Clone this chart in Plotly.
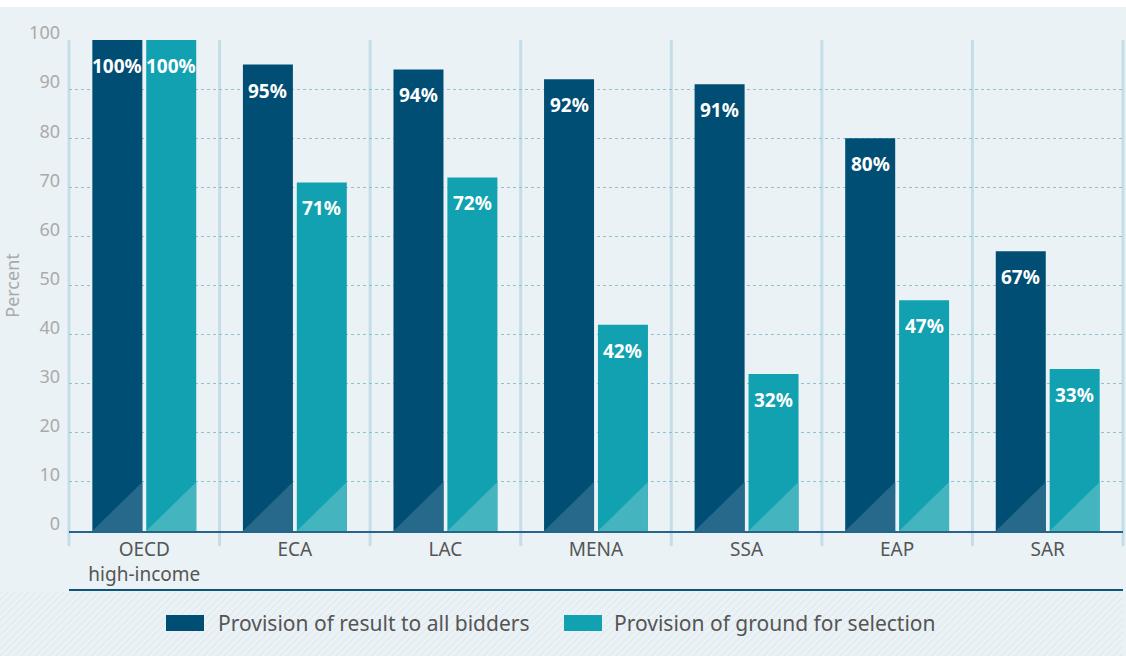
import plotly.graph_objects as go

regions = ["OECD<br>high-income", "ECA", "LAC", "MENA", "SSA", "EAP", "SAR"]
result_all_bidders = [100, 95, 94, 92, 91, 80, 57]
ground_for_selection = [100, 71, 72, 42, 32, 47, 33]
result_labels = ["100%", "95%", "94%", "92%", "91%", "80%", "67%"]
ground_labels = ["100%", "71%", "72%", "42%", "32%", "47%", "33%"]
series_names = ["Provision of result to all bidders", "Provision of ground for selection"]

DARK = "#004e74"
TEAL = "#12a1b1"
DARK_TRI = "#26698a"
TEAL_TRI = "#44b4bf"
BG = "#eaf2f6"
FONT = "Noto Sans"

W, H = 1126, 656
L, R, T, B = 69, 3, 40, 125
pw, ph = W - L - R, H - T - B

BAR_W = 0.332
OFFSETS = [-0.345, 0.013]


def px(x):
    return (x - L) / pw


def py(y):
    return (H - B - y) / ph


xs = list(range(len(regions)))
fig = go.Figure()
for vals, off, color, name in [(result_all_bidders, OFFSETS[0], DARK, series_names[0]),
                               (ground_for_selection, OFFSETS[1], TEAL, series_names[1])]:
    fig.add_trace(go.Bar(x=xs, y=vals, width=BAR_W, offset=off, marker=dict(color=color, line=dict(width=0)),
                         name=name, showlegend=False, hoverinfo="y"))

shapes = []
# background panel below the white strip
shapes.append(dict(type="rect", xref="paper", yref="paper", x0=px(0), x1=px(W), y0=py(H), y1=py(7),
                   fillcolor=BG, line=dict(width=0), layer="below"))
# hatched footer
for x in range(-70, W + 10, 7):
    shapes.append(dict(type="line", xref="paper", yref="paper", x0=px(x), y0=py(H), x1=px(x + 64), y1=py(592),
                       line=dict(color="#dce7ed", width=1), layer="below"))
shapes.append(dict(type="rect", xref="paper", yref="paper", x0=px(1123), x1=px(W), y0=py(H), y1=py(591),
                   fillcolor=BG, line=dict(width=0), layer="below"))
shapes.append(dict(type="rect", xref="paper", yref="paper", x0=px(0), x1=px(W), y0=py(592), y1=py(560),
                   fillcolor=BG, line=dict(width=0), layer="below"))
# category separators
for i in range(len(regions) + 1):
    shapes.append(dict(type="line", xref="paper", yref="paper", x0=i / len(regions), x1=i / len(regions),
                       y0=-15 / ph, y1=1, line=dict(color="#c5dde7", width=3), layer="below"))
# bottom rule
shapes.append(dict(type="line", xref="paper", yref="paper", x0=0, x1=1, y0=py(590), y1=py(590),
                   line=dict(color="#0d5479", width=2)))
# corner triangles on bars
for vals, off, col in [(result_all_bidders, OFFSETS[0], DARK_TRI), (ground_for_selection, OFFSETS[1], TEAL_TRI)]:
    for i in xs:
        x0, x1 = i + off, i + off + BAR_W
        shapes.append(dict(type="path", xref="x", yref="y",
                           path=f"M {x0},0 L {x1},10 L {x1},0 Z",
                           fillcolor=col, line=dict(width=0), layer="above"))
# legend swatches
shapes.append(dict(type="rect", xref="paper", yref="paper", x0=px(166), x1=px(204), y0=py(631), y1=py(615),
                   fillcolor=DARK, line=dict(width=0)))
shapes.append(dict(type="rect", xref="paper", yref="paper", x0=px(564), x1=px(602), y0=py(631), y1=py(615),
                   fillcolor=TEAL, line=dict(width=0)))

annotations = []
for vals, labels, off in [(result_all_bidders, result_labels, OFFSETS[0]),
                          (ground_for_selection, ground_labels, OFFSETS[1])]:
    for i, (v, t) in enumerate(zip(vals, labels)):
        annotations.append(dict(x=i + off + BAR_W / 2, y=v, text=f"<b>{t}</b>", showarrow=False, yshift=-26,
                                font=dict(family=FONT, size=19, color="white")))
for xl, name in [(216, series_names[0]), (612, series_names[1])]:
    annotations.append(dict(x=px(xl), y=py(623), xref="paper", yref="paper", text=name, showarrow=False,
                            xanchor="left", yanchor="middle", font=dict(family=FONT, size=21, color="#555555")))

fig.update_layout(
    width=W, height=H,
    margin=dict(l=L, r=R, t=T, b=B),
    paper_bgcolor="white",
    plot_bgcolor=BG,
    font=dict(family=FONT, size=19, color="#555555"),
    shapes=shapes,
    annotations=annotations,
    showlegend=False,
    xaxis=dict(range=[-0.5, len(regions) - 0.5], tickmode="array", tickvals=xs, ticktext=regions,
               showgrid=False, zeroline=False, showline=True, linecolor="#24658a", linewidth=2,
               tickfont=dict(family=FONT, size=19, color="#555555"), ticks="", ticklabelstandoff=0),
    yaxis=dict(range=[0, 100], tickmode="array", tickvals=list(range(0, 101, 10)),
               showgrid=True, gridcolor="#93bfd0", griddash="dot", gridwidth=1, zeroline=False,
               tickfont=dict(family=FONT, size=18, color="#aaaaaa"), ticklabelshift=-7, ticklabelstandoff=8,
               title=dict(text="Percent", font=dict(family=FONT, size=18, color="#aaaaaa"), standoff=6)),
)

fig.write_html("out.html", config={"displayModeBar": False},
               post_script="document.body.style.margin='0';")
